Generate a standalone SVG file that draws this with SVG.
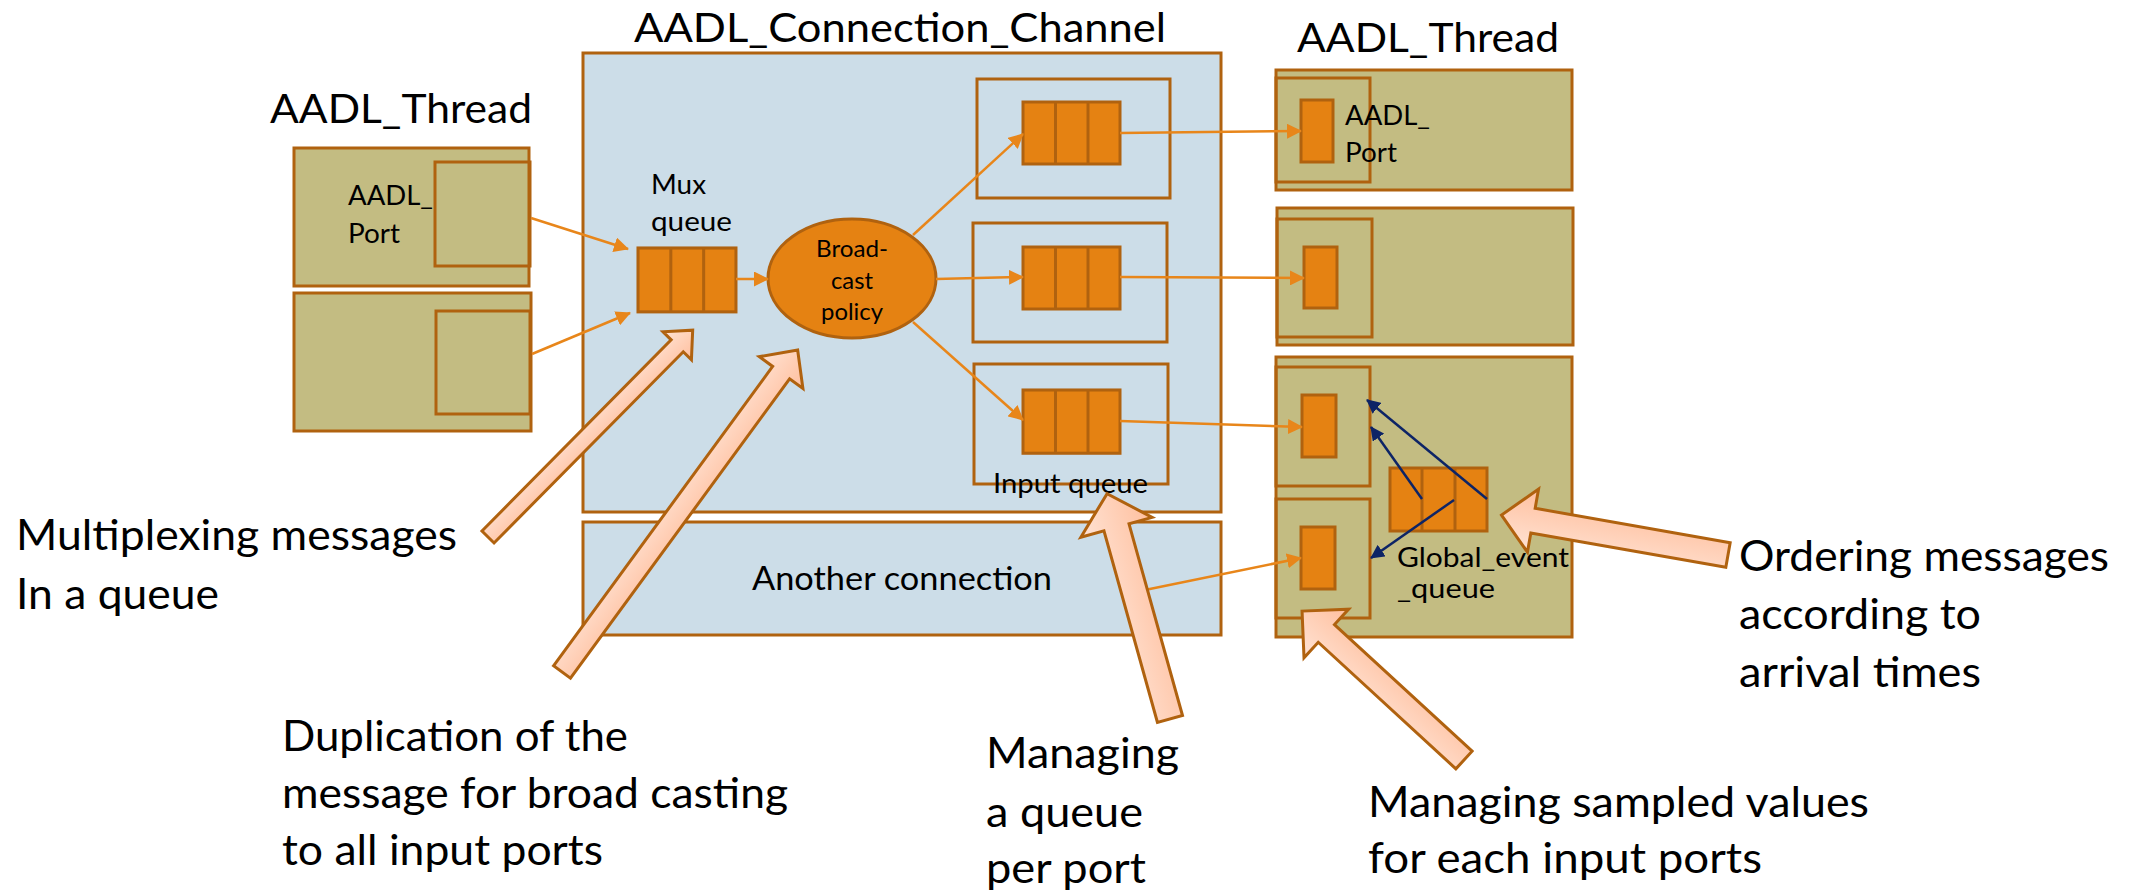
<svg xmlns="http://www.w3.org/2000/svg" xmlns:xlink="http://www.w3.org/1999/xlink" width="2131" height="892" viewBox="0 0 2131 892">
  <defs>
    <style>
      .ch { fill: #CCDDE8; stroke: #B0620F; stroke-width: 3; }
      .th { fill: #C3BC82; stroke: #B0620F; stroke-width: 3; }
      .box { fill: none; stroke: #B0620F; stroke-width: 3; }
      .q { fill: #E58212; stroke: #B0620F; stroke-width: 3; }
      .div { stroke: #B0620F; stroke-width: 3; }
      .ln { fill: none; stroke: #E8861A; stroke-width: 2.5; marker-end: url(#ah); }
      .nv { fill: none; stroke: #0D2466; stroke-width: 2.5; marker-end: url(#nh); }
      .big { fill: url(#pg); stroke: #B0620F; stroke-width: 3; stroke-linejoin: miter; }
      text { font-family: Lato, "Liberation Sans", sans-serif; fill: #000; }
      .title { font-size: 41px; }
      .lbl { font-size: 43px; }
      .sm { font-size: 27px; }
    </style>
    <marker id="ah" viewBox="0 0 15 15" refX="14" refY="7.5" markerWidth="15" markerHeight="15" markerUnits="userSpaceOnUse" orient="auto">
      <path d="M0,0 L15,7.5 L0,15 z" fill="#E8861A"/>
    </marker>
    <marker id="nh" viewBox="0 0 14 14" refX="13" refY="7" markerWidth="14" markerHeight="14" markerUnits="userSpaceOnUse" orient="auto">
      <path d="M0,0 L14,7 L0,14 z" fill="#0D2466"/>
    </marker>
    <linearGradient id="pg" x1="0" y1="0" x2="0" y2="1">
      <stop offset="0" stop-color="#FFE3D4"/>
      <stop offset="1" stop-color="#FFBF9E"/>
    </linearGradient>
    <!-- three-slot message queue -->
    <g id="queue">
      <rect class="q" x="0" y="0" width="97" height="62"/>
      <line class="div" x1="32.5" y1="0" x2="32.5" y2="62"/>
      <line class="div" x1="65" y1="0" x2="65" y2="62"/>
    </g>
  </defs>

  <rect width="2131" height="892" fill="#FFFFFF"/>

  <!-- titles -->
  <text class="title" x="634" y="42" textLength="532" lengthAdjust="spacingAndGlyphs">AADL_Connection_Channel</text>
  <text class="title" x="1297" y="52" textLength="262" lengthAdjust="spacingAndGlyphs">AADL_Thread</text>
  <text class="title" x="270" y="123" textLength="262" lengthAdjust="spacingAndGlyphs">AADL_Thread</text>

  <!-- sending thread (left) -->
  <g id="src-thread-1">
    <rect class="th" x="294" y="148" width="235" height="138"/>
    <rect class="box" x="435" y="162" width="95" height="104"/>
    <text class="sm" x="348" y="205" textLength="85" lengthAdjust="spacingAndGlyphs">AADL_</text>
    <text class="sm" x="348" y="243" textLength="52" lengthAdjust="spacingAndGlyphs">Port</text>
  </g>
  <g id="src-thread-2">
    <rect class="th" x="294" y="293" width="237" height="138"/>
    <rect class="box" x="436" y="311" width="94" height="103"/>
  </g>

  <!-- connection channel -->
  <g id="channel">
    <rect class="ch" x="583" y="53" width="638" height="459"/>
  </g>
  <g id="another-connection">
    <rect class="ch" x="583" y="522" width="638" height="113"/>
    <text x="752" y="590" font-size="33" textLength="300" lengthAdjust="spacingAndGlyphs">Another connection</text>
  </g>

  <g id="mux-queue">
    <text class="sm" x="651" y="194" textLength="55" lengthAdjust="spacingAndGlyphs">Mux</text>
    <text class="sm" x="651" y="231" textLength="81" lengthAdjust="spacingAndGlyphs">queue</text>
    <use xlink:href="#queue" href="#queue" transform="translate(638,248) scale(1.01,1.03)"/>
  </g>

  <g id="broadcast-policy">
    <ellipse cx="852" cy="278.5" rx="84" ry="59.5" fill="#E58212" stroke="#B0620F" stroke-width="3"/>
    <text x="852" y="257" font-size="23" text-anchor="middle" textLength="72" lengthAdjust="spacingAndGlyphs">Broad-</text>
    <text x="852" y="289" font-size="23" text-anchor="middle" textLength="42" lengthAdjust="spacingAndGlyphs">cast</text>
    <text x="852" y="320" font-size="23" text-anchor="middle" textLength="62" lengthAdjust="spacingAndGlyphs">policy</text>
  </g>

  <g id="input-queue-1">
    <rect class="box" x="977" y="79" width="193" height="119"/>
    <use xlink:href="#queue" href="#queue" x="1023" y="102"/>
  </g>
  <g id="input-queue-2">
    <rect class="box" x="973" y="223" width="194" height="119"/>
    <use xlink:href="#queue" href="#queue" x="1023" y="247"/>
  </g>
  <g id="input-queue-3">
    <rect class="box" x="974" y="364" width="194" height="120"/>
    <use xlink:href="#queue" href="#queue" transform="translate(1023,390) scale(1,1.02)"/>
    <text class="sm" x="993" y="493" textLength="155" lengthAdjust="spacingAndGlyphs">Input queue</text>
  </g>

  <!-- receiving threads (right) -->
  <g id="dst-thread-1">
    <rect class="th" x="1276" y="70" width="296" height="120"/>
    <rect class="box" x="1276" y="78" width="94" height="104"/>
    <rect class="q" x="1301" y="100" width="32" height="62"/>
    <text class="sm" x="1345" y="125" textLength="85" lengthAdjust="spacingAndGlyphs">AADL_</text>
    <text class="sm" x="1345" y="162" textLength="52" lengthAdjust="spacingAndGlyphs">Port</text>
  </g>
  <g id="dst-thread-2">
    <rect class="th" x="1277" y="208" width="296" height="137"/>
    <rect class="box" x="1277" y="219" width="95" height="118"/>
    <rect class="q" x="1304" y="247" width="33" height="61"/>
  </g>
  <g id="dst-thread-3">
    <rect class="th" x="1276" y="357" width="296" height="280"/>
    <rect class="box" x="1276" y="367" width="94" height="119"/>
    <rect class="q" x="1302" y="395" width="34" height="62"/>
    <rect class="box" x="1276" y="499" width="94" height="119"/>
    <rect class="q" x="1301" y="527" width="34" height="62"/>
  </g>
  <g id="global-event-queue">
    <rect class="q" x="1390" y="468" width="97" height="63"/>
    <line class="div" x1="1422" y1="468" x2="1422" y2="531"/>
    <line class="div" x1="1455" y1="468" x2="1455" y2="531"/>
    <text x="1397" y="567" font-size="26" textLength="172" lengthAdjust="spacingAndGlyphs">Global_event</text>
    <text x="1397" y="598" font-size="26" textLength="98" lengthAdjust="spacingAndGlyphs">_queue</text>
  </g>

  <!-- message flows -->
  <g id="connectors">
    <line class="ln" x1="531" y1="218" x2="628" y2="249"/>
    <line class="ln" x1="532" y1="354" x2="630" y2="313"/>
    <line class="ln" x1="736" y1="279" x2="768" y2="279"/>
    <line class="ln" x1="913" y1="235" x2="1023" y2="134"/>
    <line class="ln" x1="936" y1="279" x2="1023" y2="277"/>
    <line class="ln" x1="913" y1="322" x2="1023" y2="420"/>
    <line class="ln" x1="1120" y1="133" x2="1301" y2="131"/>
    <line class="ln" x1="1120" y1="277" x2="1304" y2="278"/>
    <line class="ln" x1="1120" y1="421" x2="1302" y2="427"/>
    <line class="ln" x1="1140" y1="591" x2="1301" y2="558"/>
    <line class="nv" x1="1487" y1="499" x2="1367" y2="400"/>
    <line class="nv" x1="1422" y1="499" x2="1371" y2="427"/>
    <line class="nv" x1="1454" y1="500" x2="1371" y2="558"/>
  </g>

  <!-- callout arrows -->
  <g id="callouts">
    <polygon class="big" transform="translate(488,537) rotate(-45.3)" points="0,-8.5 269,-8.5 269,-20 291,0 269,20 269,8.5 0,8.5"/>
    <polygon class="big" transform="translate(562,672) rotate(-53.8)" points="0,-10.5 371,-10.5 371,-27 399,0 371,27 371,10.5 0,10.5"/>
    <polygon class="big" transform="translate(1170,719) rotate(-105.6)" points="0,-13 199,-13 199,-37 234,0 199,37 199,13 0,13"/>
    <polygon class="big" transform="translate(1464,760) rotate(-137.4)" points="0,-12 187,-12 187,-33 220,0 187,33 187,12 0,12"/>
    <polygon class="big" transform="translate(1728,555) rotate(-170)" points="0,-12.5 198,-12.5 198,-32 230,0 198,32 198,12.5 0,12.5"/>
  </g>

  <!-- annotations -->
  <g id="notes">
    <text class="lbl" x="16" y="550" textLength="441" lengthAdjust="spacingAndGlyphs">Multiplexing messages</text>
    <text class="lbl" x="16" y="609" textLength="203" lengthAdjust="spacingAndGlyphs">In a queue</text>
    <text class="lbl" x="282" y="751" textLength="346" lengthAdjust="spacingAndGlyphs">Duplication of the</text>
    <text class="lbl" x="282" y="808" textLength="506" lengthAdjust="spacingAndGlyphs">message for broad casting</text>
    <text class="lbl" x="282" y="865" textLength="321" lengthAdjust="spacingAndGlyphs">to all input ports</text>
    <text class="lbl" x="986" y="768" textLength="193" lengthAdjust="spacingAndGlyphs">Managing</text>
    <text class="lbl" x="986" y="827" textLength="157" lengthAdjust="spacingAndGlyphs">a queue</text>
    <text class="lbl" x="986" y="883" textLength="160" lengthAdjust="spacingAndGlyphs">per port</text>
    <text class="lbl" x="1368" y="817" textLength="501" lengthAdjust="spacingAndGlyphs">Managing sampled values</text>
    <text class="lbl" x="1368" y="873" textLength="394" lengthAdjust="spacingAndGlyphs">for each input ports</text>
    <text class="lbl" x="1739" y="571" textLength="370" lengthAdjust="spacingAndGlyphs">Ordering messages</text>
    <text class="lbl" x="1739" y="629" textLength="242" lengthAdjust="spacingAndGlyphs">according to</text>
    <text class="lbl" x="1739" y="687" textLength="242" lengthAdjust="spacingAndGlyphs">arrival times</text>
  </g>
</svg>
